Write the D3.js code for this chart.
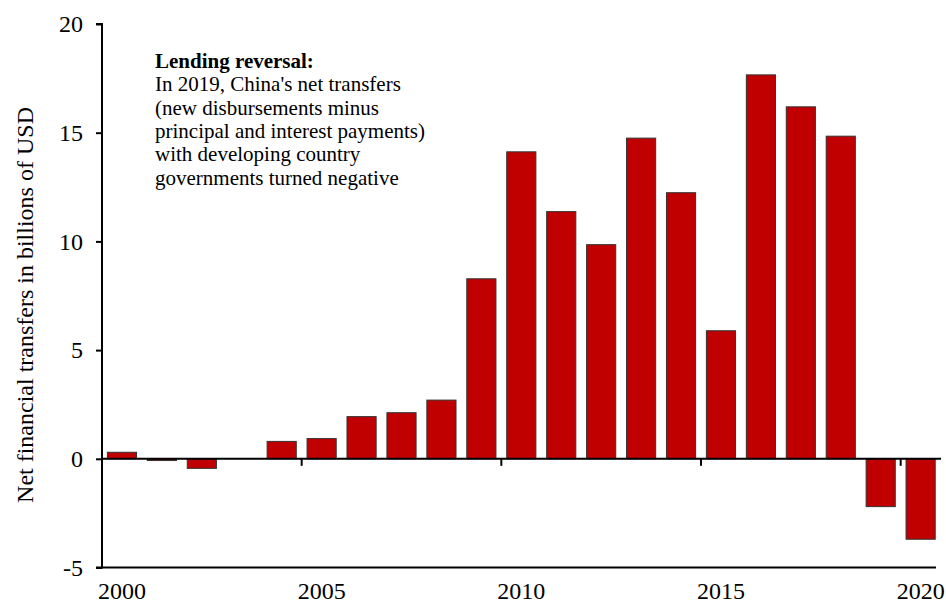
<!DOCTYPE html>
<html>
<head>
<meta charset="utf-8">
<script src="https://cdn.jsdelivr.net/npm/d3@7/dist/d3.min.js"></script>
<style>
  body { margin: 0; background: #fff; }
  text { font-family: "Liberation Serif", "Times New Roman", serif; fill: #000; }
</style>
</head>
<body>
<div id="chart"></div>
<script>
// net transfers, billions of USD
const years = d3.range(2000, 2021);
const netTransfers = [0.3, -0.08, -0.44, 0, 0.8, 0.93, 1.94, 2.12, 2.7, 8.28, 14.12,
    11.37, 9.85, 14.75, 12.24, 5.89, 17.66, 16.19, 14.84, -2.2, -3.7];
const yTicks = [-5, 0, 5, 10, 15, 20];
const xLabelYears = [2000, 2005, 2010, 2015, 2020];
const noteTitle = 'Lending reversal:';
const noteLines = ["In 2019, China's net transfers", '(new disbursements minus',
    'principal and interest payments)', 'with developing country',
    'governments turned negative'];

const width = 946, height = 605;
const svg = d3.select('#chart').append('svg')
    .attr('width', width)
    .attr('height', height);

const x = d3.scaleBand()
    .domain(years)
    .range([102, 940.6])
    .paddingInner(0.27)
    .paddingOuter(0.135);

const y = d3.scaleLinear()
    .domain([-5, 20])
    .range([567.5, 24]);

// bars
svg.selectAll('.bar')
    .data(years)
    .enter()
    .append('rect')
    .attr('class', 'bar')
    .attr('x', d => x(d))
    .attr('width', x.bandwidth())
    .attr('y', (d, i) => y(Math.max(0, netTransfers[i])))
    .attr('height', (d, i) => Math.abs(y(netTransfers[i]) - y(0)))
    .attr('fill', '#c00000')
    .attr('stroke', '#333')
    .attr('stroke-width', 1);

// y axis
const yAxis = d3.axisLeft(y)
    .tickValues(yTicks)
    .tickFormat(d => String(d))   // plain hyphen like the original
    .tickSize(6)
    .tickPadding(13);
const gy = svg.append('g')
    .attr('transform', 'translate(102,0)')
    .call(yAxis);
gy.select('.domain').attr('stroke-width', 2).attr('d', `M-6,${y(20)}H0V${y(-5)}H-6`);
gy.selectAll('.tick line').attr('stroke-width', 2);
gy.selectAll('.tick text')
    .style('font-size', '24px');

// bottom frame line at -5
svg.append('line')
    .attr('x1', 101)
    .attr('x2', 936)
    .attr('y1', y(-5))
    .attr('y2', y(-5))
    .attr('stroke', '#000')
    .attr('stroke-width', 2);

// zero line with ticks between year groups
svg.append('line')
    .attr('x1', 101)
    .attr('x2', 941)
    .attr('y1', y(0))
    .attr('y2', y(0))
    .attr('stroke', '#000')
    .attr('stroke-width', 2);

const step = x.step();
svg.selectAll('.zero-tick')
    .data(xLabelYears.slice(1))
    .enter()
    .append('line')
    .attr('class', 'zero-tick')
    .attr('x1', d => x(d) - (step - x.bandwidth()) / 2)
    .attr('x2', d => x(d) - (step - x.bandwidth()) / 2)
    .attr('y1', y(0))
    .attr('y2', y(0) + 7)
    .attr('stroke', '#000')
    .attr('stroke-width', 2);

// year labels
svg.selectAll('.year-label')
    .data(xLabelYears)
    .enter()
    .append('text')
    .attr('class', 'year-label')
    .attr('x', d => x(d) + x.bandwidth() / 2)
    .attr('y', 599)
    .attr('text-anchor', 'middle')
    .style('font-size', '24px')
    .text(d => d);

// y title
svg.append('text')
    .attr('transform', 'translate(33,305) rotate(-90)')
    .attr('text-anchor', 'middle')
    .style('font-size', '24px')
    .text('Net financial transfers in billions of USD');

// annotation
const note = svg.append('text')
    .attr('x', 155)
    .attr('y', 68)
    .style('font-size', '21px');
note.append('tspan')
    .attr('x', 155)
    .style('font-weight', 'bold')
    .text(noteTitle);
noteLines.forEach(line => {
    note.append('tspan')
        .attr('x', 155)
        .attr('dy', 23.3)
        .text(line);
});
</script>
</body>
</html>
